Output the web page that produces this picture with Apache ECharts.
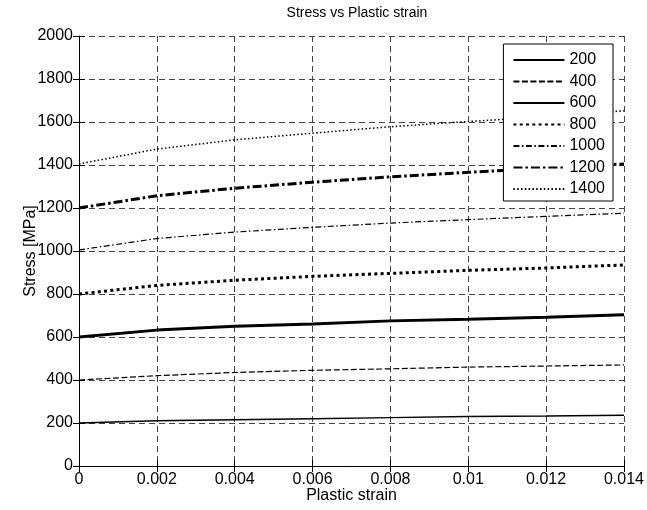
<!DOCTYPE html>
<html>
<head>
<meta charset="utf-8">
<script src="https://cdn.jsdelivr.net/npm/echarts@6/dist/echarts.min.js"></script>
<style>
  html, body { margin: 0; padding: 0; background: #fff; }
  #chart { width: 647px; height: 510px; }
</style>
</head>
<body>
<div id="chart"></div>
<script>
// Plastic strain sample points
const strain = [0, 0.002, 0.004, 0.006, 0.008, 0.010, 0.012, 0.014];

// Flow stress curves [MPa], one per initial yield stress
const names = ['200', '400', '600', '800', '1000', '1200', '1400'];
const s200  = [200, 210, 215, 220, 225, 230, 232, 236];
const s400  = [400, 420, 435, 445, 452, 460, 465, 470];
const s600  = [600, 632, 650, 660, 675, 683, 692, 703];
const s800  = [800, 840, 864, 882, 896, 910, 921, 935];
const s1000 = [1005, 1058, 1088, 1110, 1130, 1146, 1161, 1176];
const s1200 = [1200, 1257, 1292, 1320, 1345, 1366, 1386, 1405];
const s1400 = [1405, 1474, 1517, 1548, 1578, 1602, 1625, 1652];
const curves = [s200, s400, s600, s800, s1000, s1200, s1400];

// Line styles: solid, dashed, thick solid, thick dotted, dash-dot, thick dash-dot, dotted
const styles = [
  { width: 1.5, type: 'solid' },
  { width: 1.2, type: [6, 2.5] },
  { width: 3,   type: 'solid' },
  { width: 3,   type: [3, 3.3] },
  { width: 1.2, type: [6, 2.5, 1.5, 2.5] },
  { width: 3,   type: [9, 3, 2.5, 3] },
  { width: 1.5, type: [1.5, 2.3] }
];

const FONT = 'Liberation Sans, Arial, Helvetica, sans-serif';

const series = names.map((n, i) => ({
  name: n,
  type: 'line',
  xAxisIndex: 0,
  yAxisIndex: 0,
  data: strain.map((x, k) => [x, curves[i][k]]),
  symbol: 'none',
  showSymbol: false,
  smooth: false,
  z: 5,
  lineStyle: { color: '#000', width: styles[i].width, type: styles[i].type },
  itemStyle: { color: '#000' }
}));

const gridDash = { color: '#444', width: 1, type: [6, 4] };
const innerTick = { show: true, inside: true, length: 6, lineStyle: { color: '#000' } };

const chart = echarts.init(document.getElementById('chart'), null, { renderer: 'canvas' });
chart.setOption({
  animation: false,
  backgroundColor: '#fff',
  title: {
    text: 'Stress vs Plastic strain',
    left: 352, top: 1, textAlign: 'center',
    textStyle: { fontFamily: FONT, fontSize: 14, fontWeight: 'normal', color: '#000' }
  },
  grid: { left: 79, right: 23, top: 36, bottom: 44, containLabel: false },
  legend: {
    data: names,
    orient: 'vertical',
    right: 34, top: 44,
    z: 20,
    itemWidth: 51, itemHeight: 14, itemGap: 5.5,
    padding: [8, 8, 4, 9],
    backgroundColor: '#fff',
    borderColor: '#000', borderWidth: 1,
    itemStyle: { opacity: 0 },
    textStyle: { fontFamily: FONT, fontSize: 16, color: '#000' }
  },
  xAxis: [{
    type: 'value', min: 0, max: 0.014, interval: 0.002,
    name: 'Plastic strain', nameLocation: 'middle', nameGap: 22,
    nameMoveOverlap: false,
    nameTextStyle: { fontFamily: FONT, fontSize: 16, color: '#000' },
    axisLine: { show: true, lineStyle: { color: '#000', width: 1 } },
    axisTick: innerTick,
    axisLabel: {
      fontFamily: FONT, fontSize: 16, color: '#000', margin: 6,
      formatter: v => String(+v.toFixed(3))
    },
    splitLine: { show: true, lineStyle: gridDash }
  }, {
    type: 'value', min: 0, max: 0.014, interval: 0.002, position: 'top',
    axisLine: { show: false },
    axisTick: innerTick,
    axisLabel: { show: false },
    splitLine: { show: false }
  }],
  yAxis: [{
    type: 'value', min: 0, max: 2000, interval: 200,
    name: 'Stress [MPa]', nameLocation: 'middle', nameGap: 40, nameRotate: 90,
    nameMoveOverlap: false,
    nameTextStyle: { fontFamily: FONT, fontSize: 16, color: '#000' },
    axisLine: { show: true, lineStyle: { color: '#000', width: 1 } },
    axisTick: innerTick,
    axisLabel: {
      fontFamily: FONT, fontSize: 16, color: '#000', margin: 6,
      formatter: v => String(v)
    },
    splitLine: { show: true, lineStyle: gridDash }
  }, {
    type: 'value', min: 0, max: 2000, interval: 200, position: 'right',
    axisLine: { show: false },
    axisTick: innerTick,
    axisLabel: { show: false },
    splitLine: { show: false }
  }],
  series: series
});
</script>
</body>
</html>
